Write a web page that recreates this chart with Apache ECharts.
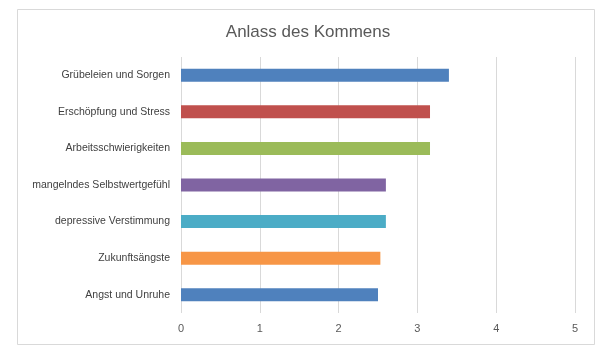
<!DOCTYPE html>
<html>
<head>
<meta charset="utf-8">
<script src="https://cdn.jsdelivr.net/npm/echarts@6/dist/echarts.min.js"></script>
<style>
html,body{margin:0;padding:0;background:#fff;}
#c{width:616px;height:357px;}
</style>
</head>
<body>
<div id="c"></div>
<script>
const categories = ["Grübeleien und Sorgen","Erschöpfung und Stress","Arbeitsschwierigkeiten","mangelndes Selbstwertgefühl","depressive Verstimmung","Zukunftsängste","Angst und Unruhe"];
const values = [3.40, 3.16, 3.16, 2.60, 2.60, 2.53, 2.50];
const barColors = ["#4F81BD","#C0504D","#9BBB59","#8064A2","#4BACC6","#F79646","#4F81BD"];
const xTicks = [0,1,2,3,4,5];

const chart = echarts.init(document.getElementById('c'), null, {renderer:'canvas'});
const font = "Liberation Sans";
chart.setOption({
  animation:false,
  backgroundColor:'#fff',
  graphic:[{type:'rect', shape:{x:17.5,y:9.5,width:577,height:335}, style:{fill:'none', stroke:'#d9d9d9', lineWidth:1}, silent:true}],
  title:{text:'Anlass des Kommens', left:'center', top:19, textStyle:{fontFamily:font, fontSize:17, fontWeight:'normal', color:'#595959'}},
  grid:{left:181, right:41, top:57, bottom:44, containLabel:false},
  xAxis:{type:'value', min:xTicks[0], max:xTicks[xTicks.length-1], interval:1,
    axisLine:{show:false}, axisTick:{show:false},
    splitLine:{lineStyle:{color:'#d9d9d9', width:1}},
    axisLabel:{color:'#595959', fontFamily:font, fontSize:11, margin:10}},
  yAxis:{type:'category', data:categories, inverse:true,
    axisLine:{show:false}, axisTick:{show:false},
    axisLabel:{color:'#404040', fontFamily:font, fontSize:10.5, margin:11}},
  series:[{type:'bar', data:values.map((v,i)=>({value:v, itemStyle:{color:barColors[i]}})), barWidth:13}]
});
</script>
</body>
</html>
